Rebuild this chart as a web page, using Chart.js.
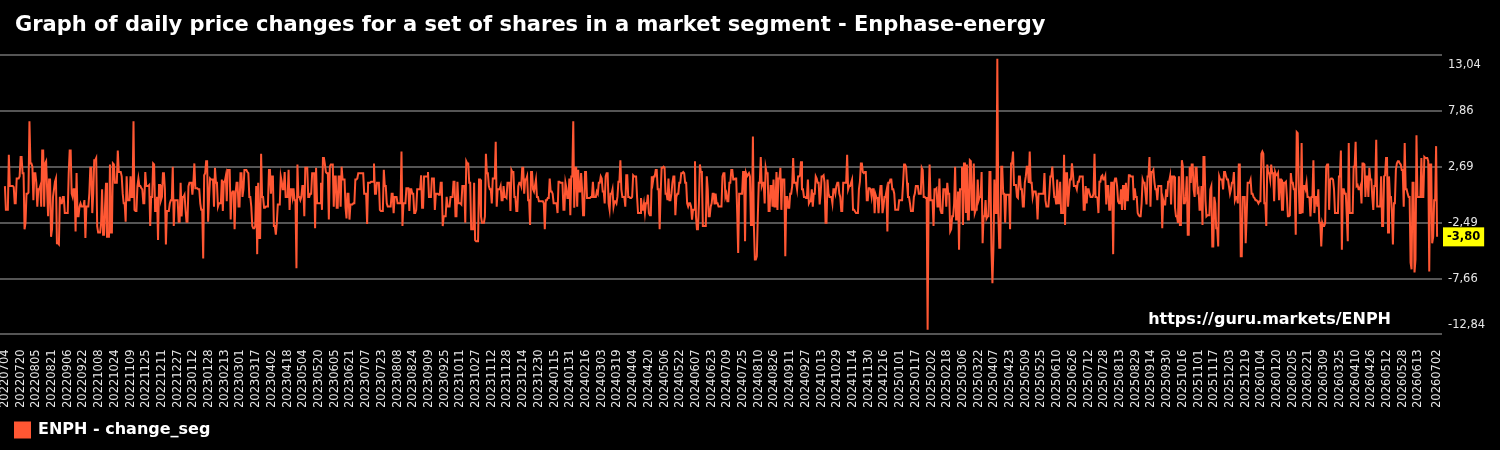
<!DOCTYPE html>
<html>
<head>
<meta charset="utf-8">
<title>ENPH - change_seg</title>
<script src="https://cdn.jsdelivr.net/npm/chart.js@4.4.1/dist/chart.umd.min.js"></script>
<style>
  html, body { margin: 0; padding: 0; background: #000; }
  canvas { display: block; }
</style>
</head>
<body>
<canvas id="chart" width="1500" height="450"></canvas>
<script>
"use strict";

// ~ Daily change values (one value per calendar day)
const part1 = [0.9,-1.3,-1.3,-1.3, 3.8,0.9,0.9,0.9,0.9, 0.8,-0.7,-0.7,1.6,1.6,1.6, 1.8,3.6,3.6,2.1,2.1, -3.1,-2.5,0.2,0.2, 0.3,6.9,3.0,3.0, 2.7,-0.4,2.1,2.1, 1.2,-1.0,0.6,0.6, 0.9,-1.0,4.2,4.2, -1.0,3.0,3.2, 0.6,-1.9,1.5,1.5, -3.8,-3.1,-0.1,-0.1, 1.3,1.6,-4.4,-4.4, -4.5,-0.1,-0.7,-0.7, -0.1,-0.1,-1.6,-1.6,-1.6, -1.6,2.1,4.2,4.2, 0.2,-0.1,0.6,0.6, -3.3,2.1,-1.9,-1.9, -1.0,-0.7,-1.0,-1.0,-1.0, -0.4,-3.9,-1.0,-1.0, -1.0,0.2,2.6,2.6, -1.6,0.2,3.3,3.3, 3.5,-2.8,-3.4,-3.4,-3.4, -2.5,0.6,-3.6,-3.6, -1.0,1.2,-3.8,-3.8, -3.8,2.9,-3.4,-3.4, 3.0,2.9,1.2,1.2,1.2, 4.2,2.2,2.2,2.2, 1.8,0.2,-0.7,-0.7, -2.4,1.8,-0.4,-0.4, -0.4,1.8,-0.1,-0.1, 6.9,-1.3,-1.4,-1.4, 0.9,1.6,0.9,0.9, 0.7,0.6,-0.7,-0.7, 2.2,0.9,0.9,0.9, 1.0,-2.8,-0.1,-0.1, 3.0,2.9,-1.4,-1.4, -0.1,-4.1,1.0,1.0, -0.4,-0.1,2.1,2.1, 0.6,-4.5,-1.4,-1.4, -1.4,-0.7,-0.4,-0.4, 2.7,-2.8,-0.4,-0.4, -0.4,-0.4,-2.4,-2.4];
const part2 = [1.2,-1.9,-0.1,-0.1, 0.1,-1.3,-2.4,-2.4, 0.9,1.2,1.2,1.2, 0.1,1.2,3.0,0.7,0.7, 0.7,0.6,0.6,-0.7, -1.3,-1.3,-5.8,1.9, 2.1,3.2,3.2,-2.4, -0.1,1.6,1.5,1.5,1.5, -1.0,2.6,1.2,1.2, -1.0,-0.7,-0.7,-0.7, 1.5,-1.4,1.3,1.3, 1.8,-0.5,2.4,2.4,2.4, -2.2,0.2,0.4,0.4, -3.1,0.2,1.2,1.2, -1.0,-1.0,2.1,2.1, -0.1,0.6,2.4,2.4,2.4, 2.2,2.1,-0.1,-0.1, -1.0,-2.8,-3.0,-3.0, -2.8,0.9,-5.4,1.2, -3.9,-3.9,3.9,-0.1,-0.1, -1.1,-1.1,-1.0,-1.0, -0.7,2.4,2.4,0.2, 1.8,1.8,-2.8,-2.8, -3.6,-2.5,-0.8,-0.8,-0.8, 1.8,1.3,0.6,0.6, 2.2,-0.1,-0.1,-0.1, 2.4,-1.3,0.6,0.6, -0.1,0.7,-0.4,-0.4, -6.7,2.9,-0.1,-0.1, -0.4,-0.1,0.9,0.9, -1.9,2.6,2.6,2.6, -0.1,-0.1,0.2,0.2, 2.1,2.1,2.1,-3.0, 2.6,-0.7,-0.7,-0.7,-0.7, 1.2,-1.3,3.5,3.5, 2.9,2.2,2.1,2.1, -2.2,2.7,2.9,2.9, 2.9,-1.0,1.8,1.8, -1.1,-1.1,1.8,1.8, -1.0,2.7,1.5,1.5,1.5, -1.1,-2.1,0.2,0.2, -2.2,-0.8,-0.8,-0.8, -0.7,-0.7,1.5,1.5, 1.6,2.1,2.1,2.1];
const part3 = [2.1,2.1,2.1,0.2,0.2,0.2, -2.6,1.2,1.2,1.2,1.3,1.3, 1.3,3.0,0.2,0.2,1.2,1.2, 1.2,-1.3,-1.4,-1.4,-1.4,2.4, 0.9,0.9,-0.7,-1.0,-1.0,-1.0, -1.0,0.2,0.2,-1.6,-0.1,-0.1, -0.1,-0.7,-0.7,-0.7,-0.7,4.1, -2.8,-0.7,-0.7,-0.7,0.7,0.7, 0.7,-1.4,0.6,0.6,0.2,0.2, -1.6,-1.6,-1.3,0.6,0.6,0.6, 0.6,1.9,-1.1,-1.1,1.8,1.8, 1.8,1.8,2.2,-0.1,-0.1,-0.1, 1.6,1.6,1.6,-1.3,0.2,0.2, 0.2,0.1,0.1,1.2,1.2,-2.8, -1.9,-1.9,-1.9,-0.1,-1.0,-1.0, -1.0,-0.1,-0.1,-0.1,1.3,1.3, -1.9,-1.9,1.3,-0.7,-0.7,-0.7, -0.8,0.9,0.9,0.9,-2.5,3.2, 3.0,3.0,1.2,1.2,-3.1,-3.1, -3.1,1.2,-4.1,-4.2,-4.2,-4.2, 1.5,1.5,-1.9,-2.5,-2.5,-2.5, -1.9,3.9,2.1,2.1,0.9, 0.6,0.6,-0.7,1.6,1.6, 1.6,5.0,-1.0,0.6,0.6, 0.6,0.9,-0.4,-0.4,0.9, -0.1,-0.1,-0.2,1.2,1.2,1.2, -1.4,2.4,2.2,2.2,-0.1,-0.1, -1.4,-1.4,0.9,1.2,1.2, 0.9,2.6,2.6,0.2,1.5, 1.5,1.8,-0.4,-0.4,-2.7, 2.2,2.2,0.6,0.4,0.4, 1.5,-0.1,-0.1,-0.5,-0.5];
const part4 = [-0.5,-0.5,-0.5,-0.7,-3.1, -0.4,-0.4,-0.2,-0.2,1.6, 0.4,0.4,0.2,-0.7,-0.7, -0.7,-0.7,-1.6,1.3,1.3, 1.2,1.2,1.2,-1.3,-1.3, 1.2,0.7,-0.2,-0.2, 1.6,-1.8,1.8,1.8, 6.9,-1.1,2.6,2.6, -1.0,2.4,0.4,0.4, 2.1,0.6,-1.8,-1.8, 2.2,2.2,-0.2,-0.2, -0.2,-0.2,-0.1,-0.1, 1.3,-0.1,-0.1,-0.1, 0.4,0.2,1.2,1.2, 1.8,1.6,0.4,0.4, -0.7,1.8,2.1,2.1, -0.7,-1.3,0.2,0.2, 0.6,-1.0,-0.5,-0.5, -0.7,-0.1,1.3,1.3, 3.3,0.6,-0.1,-0.1, -0.1,-1.0,1.9,1.9, -0.1,-0.1,-0.2,-0.2, -0.1,1.9,1.8,1.8, 1.8,-0.1,-1.6,-1.6, -1.6,-0.2,-1.3,-1.3, -0.7,-1.6,-0.7,-0.7, 0.1,-1.6,-1.8,-1.8, 1.8,1.2,1.8,1.8, 2.4,2.4,0.6,0.6, -3.1,0.2,2.6,2.6, 2.7,2.6,0.2,0.2, -0.4,1.6,-0.4,-0.4, 0.2,1.2,1.8,1.8, -1.8,-0.1,0.2,0.2, 1.2,1.2,2.1,2.1, 2.2,2.1,1.2,1.2, -0.7,-1.0,-0.7,-0.7, -1.0,-2.2,-1.3,-1.3, 3.2,-1.9,-3.1,-3.1, -0.7,2.9,2.2,2.2, -2.8,-2.8,-2.8,-2.8, 1.8,0.6,-1.9,-1.9, -1.0,-0.7,0.2,0.2, -0.8,0.2,-0.7,-0.7, -1.0,-1.0,-1.0];
const part5 = [-1.0,1.8,2.1,2.1, -0.1,0.2,-0.5,-0.5, 1.2,1.2,2.4,2.4, 1.5,1.5,1.6,1.6, -1.6,-5.3,0.2,0.2, 0.2,0.2,2.2,2.2, -4.2,2.1,1.8,1.8, 2.1,1.8,-2.7,-2.7, 5.5,-2.8,-5.9,-5.9, -5.6,-1.9,1.2,1.2, 3.6,0.9,1.2,1.2, -0.7,2.6,2.1,2.1, -1.4,-1.4,0.9,0.9, -1.0,1.5,-1.0,-1.0, 2.2,-1.3,1.6,1.6, 2.6,-1.3,1.5,1.5, 1.5,-5.6,-0.1,-0.1, -1.1,-1.1,0.2,0.2, 0.9,3.5,1.2,1.2, 1.2,0.6,1.8,1.8, 1.9,3.2,0.6,0.6, -0.1,-0.1,-0.2,-0.2, 1.5,-0.7,-0.5,-0.5, 0.6,-1.0,0.2,0.2, 1.8,1.6,1.2,1.2, -0.8,0.2,1.8,1.8, 1.9,1.2,-2.5,-2.5, 1.5,0.2,-0.1,-0.1, -0.1,-0.7,0.6,0.6, 0.2,0.9,1.2,1.2, 0.2,-0.1,-1.4,-1.4, 1.2,1.2,1.2,1.2, 3.8,0.6,0.9,0.9, 1.2,1.5,-1.3,-1.3, -1.3,-1.6,-1.6,-1.6, 0.6,1.3,3.0,3.0, 2.2,2.1,2.2,2.2, -0.4,-0.4,0.7,0.7, 0.6,-0.1,0.6,0.6, -1.6,0.1,-0.2,-0.2, -1.6,-0.1,0.9,0.9, -1.6,-1.0,-0.1,-0.1, 0.4,-3.3,1.2,1.2, 1.5,1.5,0.6,0.6, 0.2,-1.3,-1.3,-1.3, -1.3,-0.4,-0.4,-0.4];
const part6 = [-0.4,1.2,2.9,2.9, 2.7,1.2,-0.1,-0.1, -0.7,-1.4,-1.4,-1.4, -0.1,0.2,0.9,0.9, 0.9,0.2,0.2,0.2, 2.6,2.4,-0.1,-0.1, -0.2,-0.2,-12.4, -0.2,2.9,-0.4,-0.4, -0.4,-2.8,0.6,0.6, 0.7,-1.0,-1.0, 1.6,-1.3,-1.6,-1.6, 0.6,0.6,0.6, -1.0,1.2,0.2,0.2, -3.3,-3.1,-1.9,-1.9, -0.7,2.7,-2.2,-2.2, 0.4,-5.0,0.6,0.6, 2.7,-2.7,3.0,3.0, -1.6,2.9,-2.2,-2.2, 3.3,3.2,-1.3,-1.3, 3.0,-1.6,-1.3,-1.3, 1.5,-0.4,-0.1,-0.1, 2.2,-4.4,-1.9,-1.9, -0.4,-2.1,-1.9,-1.9, 2.2,2.2,-5.0,-8.1, -5.0,1.5,-1.6,-1.6, 12.7,-1.6,-4.8,-4.8, 2.7,2.7,0.2,0.2, -2.5,0.1,0.1,0.1, 0.1,-3.1,3.0,3.0, 4.1,1.0,1.0,1.0, -0.1,-0.2,1.8,1.8, 0.6,0.6,-1.0,-1.0, 1.2,1.8,2.7,2.7, 1.2,4.1,1.2,1.2, -0.1,0.4,0.4,0.4, -0.2,-2.2,0.2,0.2, 0.2,0.2,0.2,0.2, 2.1,-0.4,-1.0,-1.0, -1.0,0.2,1.8,1.8, 2.7,1.2,-0.1,-0.1, -0.8,1.5,-0.7,-0.7, 1.3,-1.6,-1.6,-1.6, 3.8,-2.7,2.1,2.1, -1.0,-1.0,1.5,1.5, 3.0,2.1,0.9,0.9, 0.9,0.6,1.3,1.3, 1.8,1.8];
const part7 = [1.8,1.8,-1.3,-1.3, 0.9,-0.7,0.6,0.6, 0.2,-0.1,-0.1,-0.1, 0.2,3.9,-0.1,-0.1, -0.2,-1.6,1.3,1.3, 1.8,1.9,1.5,1.5, 1.8,-0.8,0.9,0.9, -1.3,-1.3,1.2,1.2, -5.4,1.2,1.6,1.6, 0.9,-0.5,-0.7,-0.7, 0.6,-1.3,0.9,0.9, -1.3,1.2,-0.4,-0.4, 1.9,1.9,1.8,1.8,1.8, -0.4,0.7,-0.1,-0.1, -1.6,-1.8,-1.9,-1.9, -0.7,1.5,1.2,1.2, 0.2,-0.8,1.8,1.8, 3.6,-1.0,2.2,2.2, 2.4,1.3,0.6,0.6, -0.4,0.9,0.9,0.9,0.9, -3.0,-0.4,-0.8,-0.8, 0.6,-0.1,1.3,1.3, 1.8,-0.8,1.8,1.8, 1.8,-1.1,-1.9,-1.9, -2.5,1.8,-2.7,-2.7, 3.3,2.7,-0.7,-0.7, -0.1,1.8,-3.6,-3.6, 2.7,1.2,2.9,2.9, 0.6,-0.1,2.6,2.6, 0.4,0.6,-1.3,-1.3, 0.9,-2.7,3.6,3.6, -0.4,-1.9,-1.8,-1.8,-1.8, 0.6,0.9,-4.7,-4.7, -0.1,-0.7,-3.0,-3.0, -4.7,1.8,1.5,1.5, 1.5,0.6,2.2,2.2, 1.8,1.5,1.5,1.5, 0.2,0.6,1.2,1.2, 2.2,-0.4,-0.1,-0.1, -0.7,2.9,2.9,-5.6, -5.6,-0.1,-0.1,-0.1, -4.4,-1.9,1.2,1.2, 1.2,1.5,0.2,0.2, -0.1,-0.2,-0.4,-0.4, -0.5,-0.7,-0.5,-0.5, 3.9];
const part8 = [4.1,3.9,-0.7,-0.7, -2.8,2.9,2.1,2.1, 1.5,2.9,2.1,2.1, -0.5,2.2,1.9,1.9, 2.1,-0.4,1.5,1.5, -1.3,-1.3,1.2,1.2, 1.3,-0.1,-1.9,-1.9, -1.8,2.1,1.2,1.2, 0.6,0.6,-3.6,5.9, 5.8,1.2,-1.6,-1.6, 4.9,-1.6,0.9,0.9, 0.6,1.2,-0.1,-0.1, -0.2,-1.9,-0.1,-0.1, 3.3,-1.6,-0.1,-0.1, -1.0,0.6,-2.5,-2.5, -4.7,-2.5,-2.8,-2.8, -2.5,2.7,2.9,2.9, -1.3,1.5,1.6,1.6, 1.5,0.6,-1.6,-1.6, -1.6,-1.6,1.8,1.8, 4.2,-5.0,0.6,0.6, 0.2,0.2,-1.9,-4.2, 4.9,-1.6,-1.6,-1.6, -1.6,2.7,2.7,5.0, 0.9,1.0,0.6,0.6, 0.9,-0.7,3.0,3.0, 2.9,-0.1,1.8,1.8, -0.1,2.6,1.5,1.5, -0.1,-1.3,0.9,0.9, 5.2,-1.0,-1.0,-1.0, -1.0,1.8,-2.8,-2.8, 1.8,1.9,3.5,3.5, -3.4,1.8,-0.1,-0.1, -1.6,-4.5,-0.7,-0.7, 2.4,3.0,3.2,3.2, 3.0,2.9,2.4,2.4, -1.0,4.9,0.6,0.6, 0.2,-0.1,-0.1,-6.2, -6.8,1.2,1.2,-7.1, -5.9,5.6,-0.1,-0.1, -0.1,-0.1,3.5,-0.1,-0.1, 3.6,3.5,3.5,3.5, 3.2,-7.0,2.9,2.9, -4.4,-3.8,-0.4,-0.4, 4.6,-3.8];

const changes = [].concat(part1, part2, part3, part4, part5, part6, part7, part8);

// ~ Axis / text settings
const firstDay = Date.UTC(2022, 6, 4);
const labelEvery = 16;
const yTicks = [-12.84, -7.66, -2.49, 2.69, 7.86, 13.04];
const seriesName = "ENPH - change_seg";
const titleText = "Graph of daily price changes for a set of shares in a market segment - Enphase-energy";
const siteText = "https://guru.markets/ENPH";

const dayLabels = changes.map((_, i) =>
  new Date(firstDay + i * 86400000).toISOString().slice(0, 10).replace(/-/g, "")
);

// every 16th day, plus the last day (a regular tick too close to it is dropped)
const lastIdx = changes.length - 1;
const xTickIdx = [];
for (let i = 0; i <= lastIdx - 8; i += labelEvery) xTickIdx.push(i);
xTickIdx.push(lastIdx);

const fmt = (v) => v.toFixed(2).replace(".", ",");

Chart.defaults.font.family = "'DejaVu Sans'";

// * title, right axis labels, watermark and last value badge
const decorations = {
  id: "decorations",
  afterDraw(chart) {
    const { ctx, chartArea, scales } = chart;
    ctx.save();
    ctx.textBaseline = "middle";

    ctx.fillStyle = "#ffffff";
    ctx.font = "bold 21px 'DejaVu Sans'";
    ctx.textAlign = "left";
    ctx.fillText(titleText, 15, 26);

    ctx.font = "11.5px 'DejaVu Sans'";
    ctx.fillStyle = "#e6e6e6";
    yTicks.forEach((v, i) => {
      let y = scales.y.getPixelForValue(v);
      if (i === 0) y -= 9;
      if (i === yTicks.length - 1) y += 10;
      ctx.fillText(fmt(v), chartArea.right + 6, y);
    });

    ctx.font = "bold 16px 'DejaVu Sans'";
    ctx.fillStyle = "#ffffff";
    ctx.textAlign = "right";
    ctx.fillText(siteText, chartArea.right - 51, chartArea.bottom - 15);

    const last = changes[lastIdx];
    const ly = scales.y.getPixelForValue(last);
    const txt = fmt(last);
    ctx.font = "bold 11.5px 'DejaVu Sans'";
    const w = ctx.measureText(txt).width + 8;
    ctx.fillStyle = "#ffff00";
    ctx.fillRect(chartArea.right + 1, ly - 9.5, w, 19);
    ctx.fillStyle = "#000000";
    ctx.textAlign = "left";
    ctx.fillText(txt, chartArea.right + 5, ly + 0.5);
    ctx.restore();
  },
};

new Chart(document.getElementById("chart"), {
  type: "line",
  data: {
    datasets: [
      {
        label: seriesName,
        data: changes.map((v, i) => ({ x: i, y: v })),
        borderColor: "#ff5733",
        backgroundColor: "#ff5733",
        borderWidth: 2,
        pointRadius: 0,
        tension: 0,
      },
    ],
  },
  options: {
    responsive: false,
    animation: false,
    layout: { autoPadding: false, padding: { top: 55, right: 58, bottom: 2, left: 0 } },
    scales: {
      x: {
        type: "linear",
        min: -5,
        max: lastIdx + 5,
        grid: { display: false, drawTicks: true, tickLength: 16 },
        border: { display: false },
        afterBuildTicks: (axis) => {
          axis.ticks = xTickIdx.map((v) => ({ value: v }));
        },
        ticks: {
          autoSkip: false,
          minRotation: 90,
          maxRotation: 90,
          padding: -1,
          color: "#e6e6e6",
          font: { size: 11.5 },
          callback: (v) => dayLabels[v],
        },
      },
      y: {
        position: "right",
        min: -12.84,
        max: 13.04,
        afterBuildTicks: (axis) => {
          axis.ticks = yTicks.map((v) => ({ value: v }));
        },
        grid: { color: "#555555", lineWidth: 2, drawTicks: false },
        border: { display: false },
        ticks: { display: false },
      },
    },
    plugins: {
      legend: {
        position: "bottom",
        align: "start",
        labels: {
          boxWidth: 15,
          boxHeight: 15,
          padding: 15,
          color: "#ffffff",
          font: { size: 16, weight: "bold" },
        },
      },
      tooltip: { enabled: false },
    },
  },
  plugins: [decorations],
});
</script>
</body>
</html>
